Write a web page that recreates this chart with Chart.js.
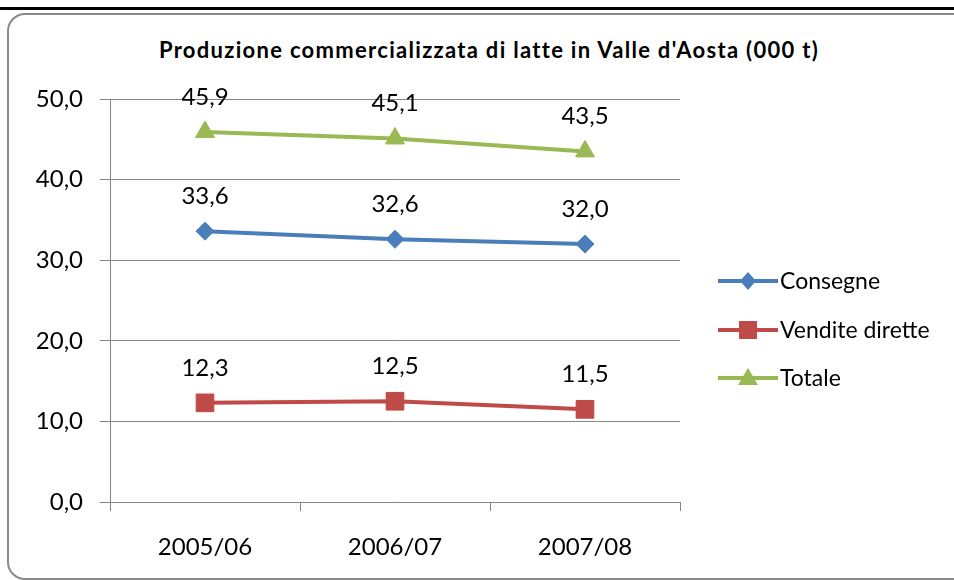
<!DOCTYPE html>
<html>
<head>
<meta charset="utf-8">
<script src="https://cdn.jsdelivr.net/npm/chart.js@4"></script>
<style>
  body { margin: 0; background: #fff; }
  #wrap { position: relative; width: 954px; height: 580px; overflow: hidden; font-family: Lato, "Open Sans", sans-serif; }
  #topline { position: absolute; left: 0; top: 7px; width: 954px; height: 3px; background: #000; }
  #frame { position: absolute; left: 7px; top: 13px; width: 960px; height: 563px; border: 2px solid #8a8a8a; border-radius: 18px; }
  #title { position: absolute; left: 0; width: 978px; top: 36px; text-align: center; font-weight: bold; font-size: 22px; letter-spacing: 1.3px; color: #000; white-space: nowrap; }
  #legend { position: absolute; left: 718px; top: 266px; }
  .item { height: 48.5px; display: flex; align-items: flex-start; font-size: 23px; color: #000; }
  .item svg { margin-top: 3px; margin-right: 2px; }
  canvas { position: absolute; left: 0; top: 0; }
</style>
</head>
<body>
<div id="wrap">
  <div id="topline"></div>
  <div id="frame"></div>
  <div id="title">Produzione commercializzata di latte in Valle d'Aosta (000 t)</div>
  <canvas id="grafico" width="954" height="580"></canvas>
  <div id="legend"></div>
</div>
<script>
// dati
const anni = ['2005/06', '2006/07', '2007/08'];
const consegne = [33.6, 32.6, 32.0];
const venditeDirette = [12.3, 12.5, 11.5];
const totale = [45.9, 45.1, 43.5];
const yTicks = [0, 10, 20, 30, 40, 50];

const blu = '#4a7ebb', rosso = '#be4b48', verde = '#98b954';
const fmt = v => v.toFixed(1).replace('.', ',');

// etichette sopra i punti
const etichette = {
  id: 'etichette',
  afterDatasetsDraw(chart) {
    const c = chart.ctx;
    c.save();
    c.font = '24px Lato';
    c.fillStyle = '#000';
    c.textAlign = 'center';
    c.textBaseline = 'middle';
    chart.data.datasets.forEach((ds, i) => {
      chart.getDatasetMeta(i).data.forEach((p, j) => {
        c.fillText(fmt(ds.data[j]), p.x, p.y - 35);
      });
    });
    c.restore();
  }
};

const ctx = document.getElementById('grafico').getContext('2d');
const grafico = new Chart(ctx, {
  type: 'line',
  data: {
    labels: anni,
    datasets: [
      { label: 'Consegne', data: consegne, borderColor: blu, backgroundColor: blu,
        borderWidth: 4, pointStyle: 'rectRot', pointRadius: 9, pointBorderWidth: 1 },
      { label: 'Vendite dirette', data: venditeDirette, borderColor: rosso, backgroundColor: rosso,
        borderWidth: 4, pointStyle: 'rect', pointRadius: 12.5, pointBorderWidth: 1 },
      { label: 'Totale', data: totale, borderColor: verde, backgroundColor: verde,
        borderWidth: 4, pointStyle: 'triangle', pointRadius: 11, pointBorderWidth: 1 }
    ]
  },
  options: {
    responsive: false,
    animation: false,
    layout: { padding: { left: 0, top: 99, right: 274, bottom: 0 } },
    plugins: { legend: { display: false }, title: { display: false }, tooltip: { enabled: false } },
    scales: {
      x: {
        offset: true,
        grid: { offset: true, drawOnChartArea: false, drawTicks: true, tickLength: 9, color: '#868686' },
        border: { color: '#868686', width: 1 },
        ticks: { color: '#000', font: { family: 'Lato', size: 24 }, padding: 22, maxRotation: 0 },
        afterFit(s) { s.height = 78; }
      },
      y: {
        min: 0, max: 50,
        afterBuildTicks(s) { s.ticks = yTicks.map(v => ({ value: v })); },
        grid: { color: '#868686', tickLength: 10 },
        border: { color: '#868686', width: 1 },
        ticks: { color: '#000', font: { family: 'Lato', size: 24 }, padding: 17, callback: v => fmt(v) },
        afterFit(s) { s.width = 110; }
      }
    }
  },
  plugins: [etichette]
});

// legenda
const legenda = document.getElementById('legend');
grafico.data.datasets.forEach(ds => {
  const col = ds.borderColor;
  let mk = '';
  if (ds.pointStyle === 'rectRot') mk = `<polygon points="30,3 38,12 30,21 22,12" fill="${col}"/>`;
  else if (ds.pointStyle === 'rect') mk = `<rect x="21" y="3" width="18" height="18" fill="${col}"/>`;
  else mk = `<polygon points="30,2 40,19 20,19" fill="${col}"/>`;
  const d = document.createElement('div');
  d.className = 'item';
  d.innerHTML = `<svg width="60" height="24"><line x1="0" y1="12" x2="60" y2="12" stroke="${col}" stroke-width="4"/>${mk}</svg><span>${ds.label}</span>`;
  legenda.appendChild(d);
});
</script>
</body>
</html>
